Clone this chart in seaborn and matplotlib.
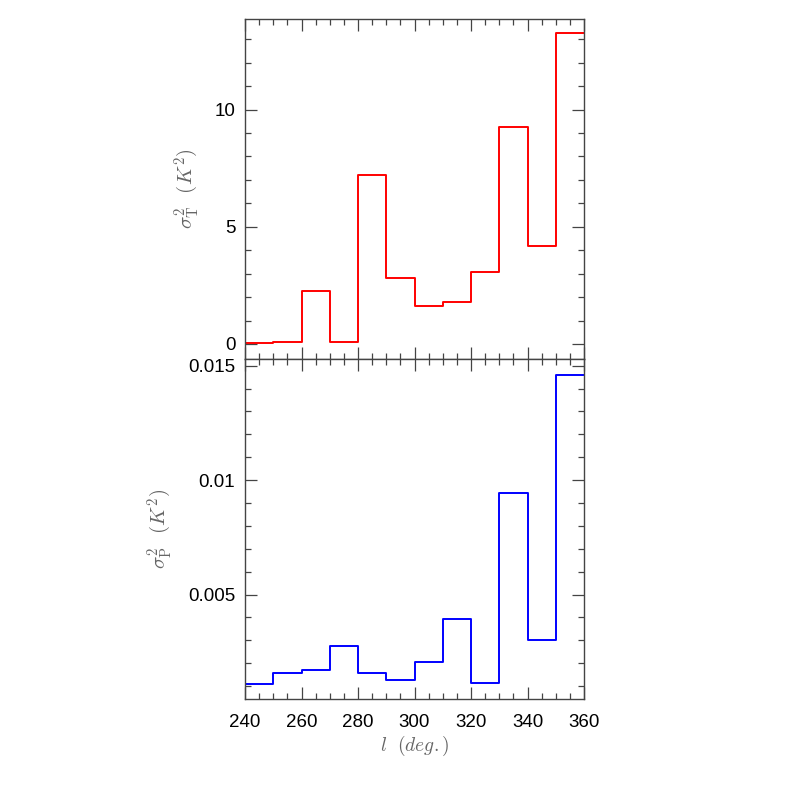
import numpy as np
import pandas as pd
import matplotlib
matplotlib.use("Agg")
import matplotlib.pyplot as plt
import seaborn as sns
from matplotlib.ticker import MultipleLocator, FixedLocator

# ---- data ----
bin_edges = [240, 250, 260, 270, 280, 290, 300, 310, 320, 330, 340, 350, 360]
bin_left = [240, 250, 260, 270, 280, 290, 300, 310, 320, 330, 340, 350]
sigma_T2 = [0.03, 0.07, 2.26, 0.10, 7.19, 2.81, 1.62, 1.81, 3.05, 9.25, 4.19, 13.25]
sigma_P2 = [0.00109, 0.00158, 0.00170, 0.00275, 0.00156, 0.00126,
            0.00205, 0.00391, 0.00115, 0.00945, 0.00302, 0.01459]
x_ticks = [240, 260, 280, 300, 320, 340, 360]
x_ticklabels = ["240", "260", "280", "300", "320", "340", "360"]
top_yticks = [0, 5, 10]
top_yticklabels = ["0", "5", "10"]
bot_yticks = [0.005, 0.01, 0.015]
bot_yticklabels = ["0.005", "0.01", "0.015"]

df = pd.DataFrame({"l": [b + 5 for b in bin_left], "T": sigma_T2, "P": sigma_P2})

sns.set_style("ticks")
plt.rcParams["font.family"] = ["Liberation Sans", "DejaVu Sans"]
plt.rcParams["mathtext.fontset"] = "cm"

fig = plt.figure(figsize=(7.97, 7.97), dpi=100)
W, H = 797.0, 797.0
L, R = 245 / W, 584 / W
ax1 = fig.add_axes([L, 1 - 359 / H, R - L, (359 - 19) / H])
ax2 = fig.add_axes([L, 1 - 699 / H, R - L, (699 - 359) / H])

sns.histplot(data=df, x="l", weights="T", bins=bin_edges, element="step",
             fill=False, color="#ff0000", linewidth=1.4, ax=ax1)
sns.histplot(data=df, x="l", weights="P", bins=bin_edges, element="step",
             fill=False, color="#0000ff", linewidth=1.4, ax=ax2)

spine_col = "#444444"
label_col = "#666666"
for ax in (ax1, ax2):
    ax.set_xlim(240, 360)
    for s in ax.spines.values():
        s.set_visible(True)
        s.set_color(spine_col)
        s.set_linewidth(1.0)
    ax.xaxis.set_major_locator(FixedLocator(x_ticks))
    ax.xaxis.set_minor_locator(MultipleLocator(5))
    ax.tick_params(which="both", direction="in", top=True, right=True,
                   color=spine_col, width=0.9, labelsize=13.5, labelcolor="black")
    ax.tick_params(which="major", length=8.5)
    ax.tick_params(which="minor", length=4)
    ax.tick_params(axis="y", pad=7)
    ax.tick_params(axis="x", pad=11)

ax1.set_ylim(-0.64, 13.86)
ax1.yaxis.set_major_locator(FixedLocator(top_yticks))
ax1.set_yticklabels(top_yticklabels)
ax1.yaxis.set_minor_locator(MultipleLocator(1))
ax1.tick_params(axis="x", labelbottom=False)
ax1.set_xlabel("")
ax1.set_ylabel(r"$\sigma^2_{\rm T}\ \ (K^2)$", fontsize=15, color=label_col, labelpad=10)

ax2.set_ylim(0.000434, 0.01529)
ax2.yaxis.set_major_locator(FixedLocator(bot_yticks))
ax2.set_yticklabels(bot_yticklabels)
ax2.yaxis.set_minor_locator(MultipleLocator(0.001))
ax2.set_xticks(x_ticks)
ax2.set_xticklabels(x_ticklabels)
ax2.set_ylabel(r"$\sigma^2_{\rm P}\ \ (K^2)$", fontsize=15, color=label_col, labelpad=10)
ax2.set_xlabel(r"$l\ \ (deg.)$", fontsize=14, color=label_col, labelpad=2)

fig.savefig("out.png", dpi=100, facecolor="white")
